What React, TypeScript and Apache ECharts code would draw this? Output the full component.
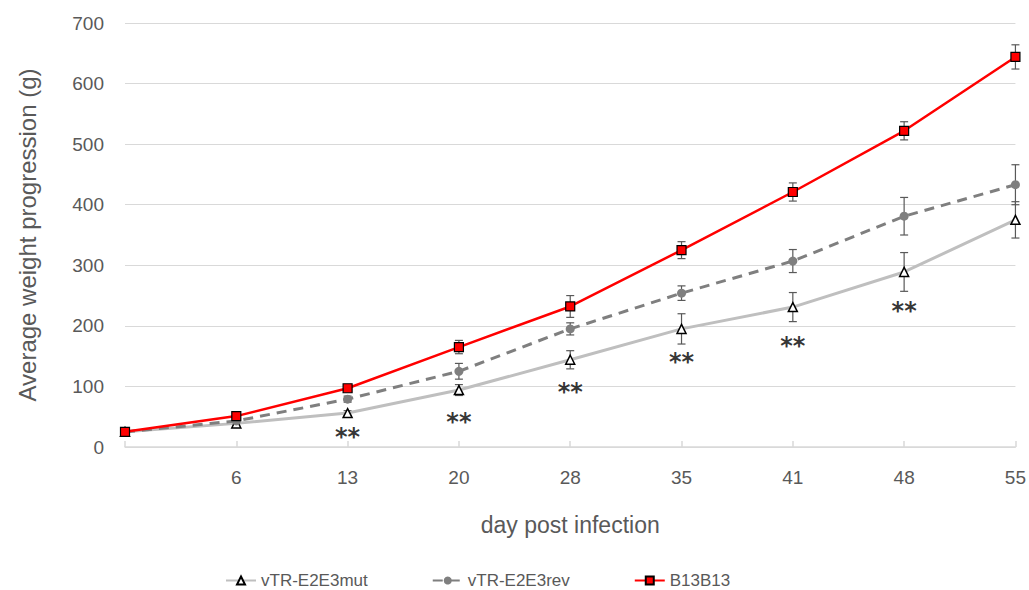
import React, { useEffect, useRef } from "react";
import * as echarts from "echarts";

const categories = ["", "6", "13", "20", "28", "35", "41", "48", "55"];
const mutValues = [25, 39, 56, 94, 144, 195, 231, 289, 375];
const mutErrors = [2, 3, 4, 9, 15, 25, 24, 32, 30];
const revValues = [25, 43, 79, 125, 195, 254, 307, 381, 433];
const revErrors = [2, 4, 5, 13, 10, 12, 19, 31, 33];
const b13Values = [25, 51, 97, 165, 232, 325, 421, 522, 644];
const b13Errors = [2, 4, 5, 11, 18, 14, 15, 15, 20];
const sigIndex = [2, 3, 4, 5, 6, 7];
const sigY = [25, 50, 99, 149, 175, 233];
const yTicks = { min: 0, max: 700, interval: 100 };

const FONT = "Liberation Sans";
const TEXT = "#595959";

function errorSeries(name: string, values: number[], errors: number[]) {
  return {
    name: name + "-err",
    type: "custom",
    z: 1,
    data: values.map((v, i) => [i, v - errors[i], v + errors[i]]),
    renderItem: (params: any, api: any) => {
      const x = api.value(0);
      const lo = api.coord([x, api.value(1)]);
      const hi = api.coord([x, api.value(2)]);
      const w = 4;
      const style = { stroke: "#595959", lineWidth: 1.2 };
      return {
        type: "group",
        children: [
          { type: "line", shape: { x1: lo[0], y1: lo[1], x2: hi[0], y2: hi[1] }, style },
          { type: "line", shape: { x1: lo[0] - w, y1: lo[1], x2: lo[0] + w, y2: lo[1] }, style },
          { type: "line", shape: { x1: hi[0] - w, y1: hi[1], x2: hi[0] + w, y2: hi[1] }, style },
        ],
      };
    },
    silent: true,
  };
}

export default function App() {
  const ref = useRef<HTMLDivElement>(null);
  useEffect(() => {
    const chart = echarts.init(ref.current!, null, { renderer: "svg" });
    chart.setOption({
      animation: false,
      backgroundColor: "#ffffff",
      textStyle: { fontFamily: FONT },
      grid: { left: 125, right: 12, top: 23, bottom: 143, containLabel: false },
      legend: {
        data: ["vTR-E2E3mut", "vTR-E2E3rev", "B13B13"],
        top: 567,
        left: 220,
        itemGap: 64,
        itemWidth: 30,
        itemHeight: 10,
        textStyle: { fontFamily: FONT, fontSize: 17, color: TEXT },
      },
      xAxis: {
        type: "category",
        data: categories,
        boundaryGap: false,
        name: "day post infection",
        nameLocation: "middle",
        nameGap: 66,
        nameTextStyle: { fontFamily: FONT, fontSize: 23, color: TEXT },
        axisLine: { lineStyle: { color: "#d9d9d9", width: 1.5 } },
        axisTick: { inside: true, length: 6, lineStyle: { color: "#d9d9d9", width: 1.5 } },
        axisLabel: { fontFamily: FONT, fontSize: 19, color: TEXT, margin: 21 },
      },
      yAxis: {
        type: "value",
        min: yTicks.min,
        max: yTicks.max,
        interval: yTicks.interval,
        name: "Average weight progression (g)",
        nameLocation: "middle",
        nameGap: 86,
        nameTextStyle: { fontFamily: FONT, fontSize: 24, color: TEXT },
        axisLine: { show: false },
        axisTick: { show: false },
        splitLine: { lineStyle: { color: "#d9d9d9", width: 1.2 } },
        axisLabel: { fontFamily: FONT, fontSize: 19, color: TEXT, margin: 21 },
      },
      series: [
        errorSeries("mut", mutValues, mutErrors),
        errorSeries("rev", revValues, revErrors),
        errorSeries("b13", b13Values, b13Errors),
        {
          name: "vTR-E2E3mut",
          type: "line",
          z: 2,
          data: mutValues,
          symbol: "triangle",
          symbolSize: 9,
          showAllSymbol: true,
          lineStyle: { color: "#bfbfbf", width: 3 },
          itemStyle: { color: "#ffffff", borderColor: "#000000", borderWidth: 1.5 },
        },
        {
          name: "vTR-E2E3rev",
          type: "line",
          z: 3,
          data: revValues,
          symbol: "circle",
          symbolSize: 9,
          showAllSymbol: true,
          lineStyle: { color: "#7f7f7f", width: 3, type: [10, 7] },
          itemStyle: { color: "#7f7f7f", borderColor: "#7f7f7f", borderWidth: 0 },
        },
        {
          name: "B13B13",
          type: "line",
          z: 4,
          data: b13Values,
          symbol: "rect",
          symbolSize: 9,
          showAllSymbol: true,
          lineStyle: { color: "#ff0000", width: 2.5 },
          itemStyle: { color: "#ff0000", borderColor: "#000000", borderWidth: 1.2 },
        },
        {
          name: "sig",
          type: "scatter",
          z: 5,
          symbolSize: 0,
          data: sigIndex.map((c, i) => [c, sigY[i]]),
          label: {
            show: true,
            position: "inside",
            formatter: "**",
            fontFamily: "DejaVu Sans",
            fontSize: 24,
            fontWeight: "bold",
            color: "#000000",
            offset: [0, 5],
          },
          silent: true,
        },
      ],
    });
    return () => chart.dispose();
  }, []);
  return <div ref={ref} style={{ width: 1029, height: 590, position: "absolute", left: 0, top: 0 }} />;
}
